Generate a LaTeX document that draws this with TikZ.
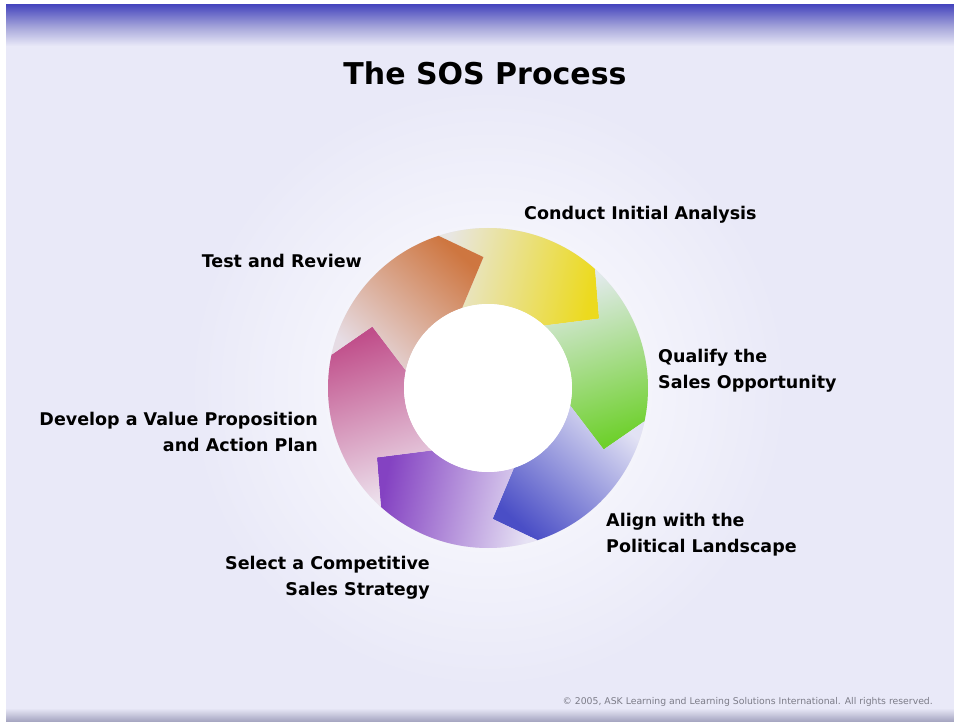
\documentclass[tikz,border=0pt]{standalone}
\usepackage{fontspec}
\setmainfont{DejaVu Sans}
\definecolor{slidebg}{HTML}{E9E9F8}
\definecolor{glowmid}{HTML}{F3F3FB}
\definecolor{topblue}{HTML}{4848BE}
\definecolor{bandmid}{HTML}{A6A6DA}
\definecolor{botgrey}{HTML}{A2A2BE}
\definecolor{ringbase}{HTML}{E6E4EE}
\definecolor{segY}{HTML}{ECDA1E}
\definecolor{tailY}{HTML}{E8E6E2}
\definecolor{segG}{HTML}{6ED02C}
\definecolor{tailG}{HTML}{E2EAEC}
\definecolor{segB}{HTML}{4A4EC6}
\definecolor{tailB}{HTML}{E2E2F4}
\definecolor{segP}{HTML}{8442C2}
\definecolor{tailP}{HTML}{E6E2F4}
\definecolor{segM}{HTML}{C04E8A}
\definecolor{tailM}{HTML}{ECE0EC}
\definecolor{segO}{HTML}{CE7640}
\definecolor{tailO}{HTML}{E6DCE4}
\definecolor{copygrey}{HTML}{7C7C88}
\pgfdeclareradialshading{glow}{\pgfpoint{0bp}{0bp}}{color(0bp)=(white); color(6bp)=(white); color(14bp)=(glowmid); color(25bp)=(slidebg); color(50bp)=(slidebg)}
\pgfdeclareverticalshading{topband}{100bp}{color(0bp)=(slidebg); color(25bp)=(slidebg); color(48bp)=(bandmid); color(75bp)=(topblue); color(100bp)=(topblue)}
\tikzset{
  lbl/.style={font=\bfseries\fontsize{17.5}{26}\selectfont, inner sep=0pt, text=black},
  ttl/.style={font=\bfseries\fontsize{30}{36}\selectfont, inner sep=0pt, text=black},
}
\begin{document}
\begin{tikzpicture}[x=1pt,y=-1pt]
\useasboundingbox (0,0) rectangle (954,722);
\fill[white] (0,0) rectangle (954,722);
\begin{scope}
\clip (6,5) rectangle (954,722);
\fill[slidebg] (6,5) rectangle (954,722);
\shade[shading=glow] (488,388) circle (300);
\shade[shading=topband] (6,5) rectangle (954,46);
\shade[top color=slidebg, bottom color=botgrey] (6,708) rectangle (954,722);
\end{scope}
% ring
\begin{scope}[shift={(488,388)}, x=1pt, y=1pt]
\fill[ringbase, even odd rule] (0,0) circle[radius=160] (0,0) circle[radius=84];
\foreach \c/\hc/\tc in {48/segY/tailY, -12/segG/tailG, -72/segB/tailB, -132/segP/tailP, 168/segM/tailM, 108/segO/tailO}{
  \pgfmathsetmacro\ang{\c-150}
  \pgfmathsetmacro\ca{\c+60}
  \pgfmathsetmacro\ct{\c-16}
  \pgfmathsetmacro\cn{\c+44}
  \shade[top color=\hc, bottom color=\tc, shading angle=\ang]
    (\ca:160) arc[start angle=\ca, end angle=\c, radius=160]
    -- (\ct:131) -- (\c:84)
    arc[start angle=\c, end angle=\ca, radius=84]
    -- (\cn:131) -- cycle;
}
\fill[white] (0,0) circle[radius=84];
\end{scope}
% texts
\node[ttl, anchor=base] (title) at (485,85) {The SOS Process};
\node[lbl, anchor=base west] (conduct) at (524,219.5) {Conduct Initial Analysis};
\node[lbl, anchor=base east] (test) at (362,267.5) {Test and Review};
\node[lbl, anchor=base west, align=left] (qualify) at (658,388.5) {Qualify the\\Sales Opportunity};
\node[lbl, anchor=base east, align=right] (develop) at (318,451.5) {Develop a Value Proposition\\and Action Plan};
\node[lbl, anchor=base west, align=left] (align) at (606,552.5) {Align with the\\Political Landscape};
\node[lbl, anchor=base east, align=right] (select) at (430,595.5) {Select a Competitive\\Sales Strategy};
\node[font=\fontsize{9.3}{11}\selectfont, text=copygrey, inner sep=0pt, anchor=base east] (copy) at (933,704.5) {© 2005, ASK Learning and Learning Solutions International. All rights reserved.};
\end{tikzpicture}
\end{document}
